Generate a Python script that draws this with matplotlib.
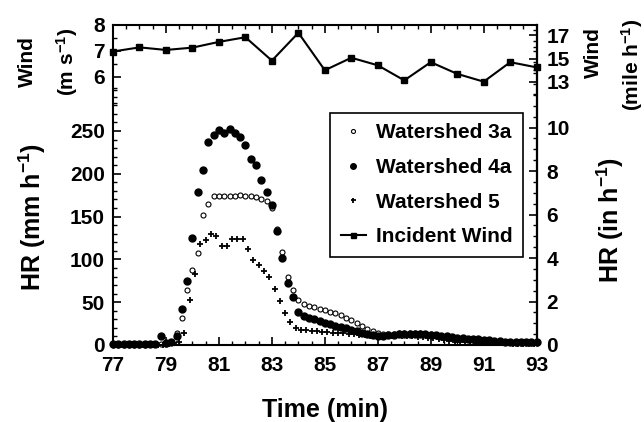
import numpy as np
import matplotlib
matplotlib.use("Agg")
import matplotlib.pyplot as plt
from matplotlib.ticker import FixedLocator

plt.rcParams['font.family'] = ['Liberation Sans', 'DejaVu Sans']
plt.rcParams['font.weight'] = 'bold'
plt.rcParams['mathtext.fontset'] = 'custom'
plt.rcParams['mathtext.rm'] = 'Liberation Sans:bold'
plt.rcParams['mathtext.it'] = 'Liberation Sans:bold'
plt.rcParams['mathtext.bf'] = 'Liberation Sans:bold'

# time grids (min)
t = np.round(np.arange(77.0, 93.01, 0.2), 1)      # watersheds 3a, 4a
t5 = np.round(np.arange(77.1, 92.91, 0.2), 1)     # watershed 5
t_wind = np.arange(77, 94)
x_ticks = [77, 79, 81, 83, 85, 87, 89, 91, 93]

# HR (mm/h)
hr_3a = [0.5, 0.5, 0.5, 0.5, 0.5, 0.5, 0.5, 1, 1, 1,
         1, 3, 14, 31, 64,
         88, 107, 152, 165, 174,
         174, 174, 174, 174, 175,
         174, 174, 173, 171, 168,
         160, 135, 109, 80, 64,
         52, 48, 46, 44, 42.5,
         41, 39, 37, 34.5, 32,
         29, 26, 22, 19, 16,
         14, 13, 13, 13, 13.5,
         14, 14, 14, 13.5, 13,
         12.5, 12, 11, 10, 9,
         8, 7, 6.5, 6, 5.5,
         5, 4.5, 4, 3.5, 3,
         3, 2.5, 2.5, 2, 2,
         2]
hr_4a = [1, 1, 1, 1, 1, 1, 1, 1.5, 1.5, 10.5,
         2, 4, 10, 42, 75,
         125, 179, 205, 237, 245,
         251, 248, 252, 248, 243,
         234, 217, 210, 193, 179,
         163, 133, 102, 72, 56,
         38, 34, 32, 30, 28,
         26, 24, 22.5, 21, 19.5,
         18, 16, 14.5, 13, 12,
         11, 11, 11.5, 12, 12.5,
         13, 13, 13, 13, 12.5,
         12, 11.5, 11, 10, 9,
         8.5, 8, 7.5, 7, 6.5,
         6, 5.5, 5, 4.5, 4,
         4, 3.5, 3.5, 3, 3,
         3]
hr_5 = [0.5, 0.5, 0.5, 0.5, 0.5, 0.5, 0.5, 0.5, 0.5, 0.5,
        1, 2, 3, 14, 52,
        83, 118, 123, 130, 127,
        116, 116, 124, 124, 124,
        112, 99, 93, 86, 79,
        65, 51, 37, 26.5, 19.5,
        18, 17, 16.5, 16, 15.5,
        15, 14.5, 14, 13.5, 13,
        12.5, 12, 11.5, 11, 10.5,
        10, 10, 10, 10, 10,
        10, 10, 9.5, 9, 8.5,
        8, 7, 6, 5, 4,
        3.5, 3, 3, 2.5, 2.5,
        2, 2, 2, 2, 2,
        1.5, 1.5, 1.5, 1.5, 1.5]

# incident wind (m/s)
wind = [6.98, 7.14, 7.04, 7.13, 7.35, 7.53, 6.63, 7.70, 6.26,
        6.74, 6.45, 5.87, 6.57, 6.12, 5.82, 6.57, 6.37]

W, H = 644, 422
fig = plt.figure(figsize=(W / 100, H / 100), dpi=100)
ax = fig.add_axes([113 / W, 1 - 345 / H, 423.7 / W, 320 / H])

ax.plot(t, hr_3a, 'o', ms=3.6, mfc='white', mec='black', mew=0.8,
        clip_on=False, label='Watershed 3a')
ax.plot(t, hr_4a, 'o', ms=5, color='black', clip_on=False,
        label='Watershed 4a')
ax.plot(t5, hr_5, '+', ms=4.5, mew=1.3, color='black', clip_on=False,
        label='Watershed 5')

ax.set_xlim(77, 93)
ax.set_ylim(0, 373.8)
ax.xaxis.set_major_locator(FixedLocator(x_ticks))
ax.xaxis.set_minor_locator(FixedLocator(np.arange(77, 93.01, 0.5)))
ax.yaxis.set_major_locator(FixedLocator([0, 50, 100, 150, 200, 250]))
ax.yaxis.set_minor_locator(FixedLocator(np.arange(0, 301, 10)))
ax.tick_params(which='both', direction='in', top=True, labelsize=15)
ax.tick_params(which='major', length=6, width=1.2)
ax.tick_params(which='minor', length=3, width=1)
ax.tick_params(axis='x', pad=8)
ax.tick_params(axis='y', pad=6)
for s in ax.spines.values():
    s.set_linewidth(1.5)

# right HR axis in in/h
ax_in = ax.secondary_yaxis('right', functions=(lambda v: v / 25.4, lambda v: v * 25.4))
ax_in.yaxis.set_major_locator(FixedLocator([0, 2, 4, 6, 8, 10]))
ax_in.yaxis.set_minor_locator(FixedLocator(np.arange(0, 14.6, 0.5)))
ax_in.tick_params(which='both', direction='in', labelsize=15, pad=7)
ax_in.tick_params(which='major', length=6, width=1.2)
ax_in.tick_params(which='minor', length=3, width=1)
ax_in.spines['right'].set_linewidth(1.5)

# wind on its own scale in the top strip
ax_w = ax.twinx()
ax_w.plot(t_wind, wind, '-s', color='black', lw=1.5, ms=4.5, clip_on=False,
          label='Incident Wind')
ax_w.set_ylim(8 - 320 / 26, 8)
ax_w.yaxis.tick_left()
ax_w.yaxis.set_major_locator(FixedLocator([6, 7, 8]))
ax_w.yaxis.set_minor_locator(FixedLocator(np.arange(5, 8.01, 0.5)))
ax_w.tick_params(which='both', direction='in', labelsize=15, pad=6)
ax_w.tick_params(which='major', length=6, width=1.2)
ax_w.tick_params(which='minor', length=3, width=1)
for s in ax_w.spines.values():
    s.set_visible(False)

ax_mph = ax_w.secondary_yaxis('right', functions=(lambda v: v * 2.23694, lambda v: v / 2.23694))
ax_mph.yaxis.set_major_locator(FixedLocator([13, 15, 17]))
ax_mph.yaxis.set_minor_locator(FixedLocator([12, 14, 16]))
ax_mph.tick_params(which='both', direction='in', labelsize=15, pad=7)
ax_mph.tick_params(which='major', length=6, width=1.2)
ax_mph.tick_params(which='minor', length=3, width=1)
ax_mph.spines['right'].set_linewidth(1.5)

h1, l1 = ax.get_legend_handles_labels()
h2, l2 = ax_w.get_legend_handles_labels()
leg = ax_w.legend(h1 + h2, l1 + l2, loc='upper right',
                  bbox_to_anchor=(410 / 423.7, 232 / 320), borderaxespad=0,
                  fancybox=False, edgecolor='black', framealpha=1,
                  fontsize=15, markerscale=0.8, handlelength=1.2,
                  handletextpad=0.5, labelspacing=0.75, borderpad=0.5)
leg.get_frame().set_linewidth(1.2)

# axis titles
fig.text(325 / W, 1 - 410 / H, 'Time (min)', ha='center', va='center', fontsize=18)
fig.text(32 / W, 1 - 217 / H, r'HR (mm h$^{-1}$)', ha='center', va='center',
         rotation=90, fontsize=18)
fig.text(610 / W, 1 - 220 / H, r'HR (in h$^{-1}$)', ha='center', va='center',
         rotation=90, fontsize=18)
fig.text(27 / W, 1 - 62 / H, 'Wind', ha='center', va='center', rotation=90, fontsize=15)
fig.text(67 / W, 1 - 62 / H, r'(m s$^{-1}$)', ha='center', va='center', rotation=90, fontsize=15)
fig.text(593 / W, 1 - 53 / H, 'Wind', ha='center', va='center', rotation=90, fontsize=15)
fig.text(632 / W, 1 - 65 / H, r'(mile h$^{-1}$)', ha='center', va='center', rotation=90, fontsize=15)

fig.savefig('out.png', dpi=100)
